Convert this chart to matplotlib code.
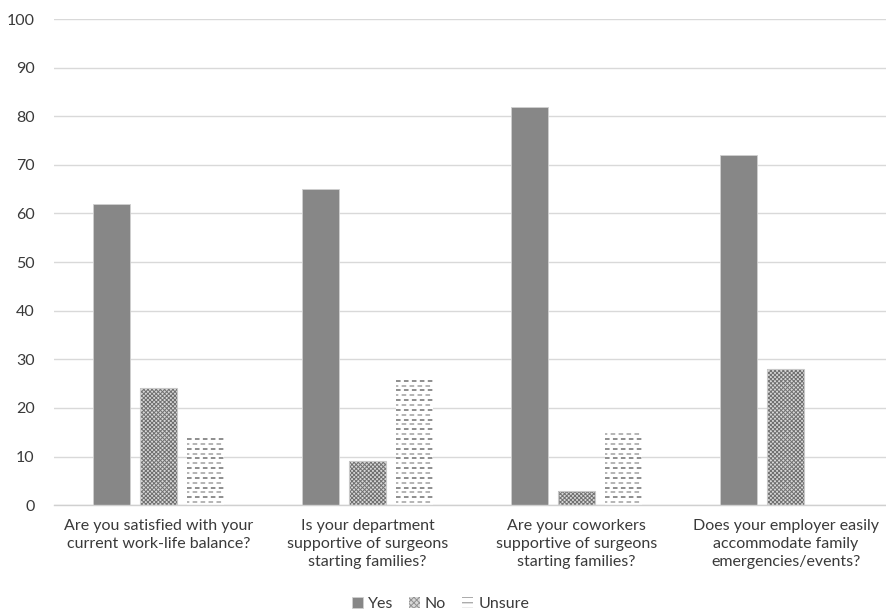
import numpy as np
import matplotlib.pyplot as plt
from matplotlib.patches import Patch

questions = [
    "Are you satisfied with your\ncurrent work-life balance?",
    "Is your department\nsupportive of surgeons\nstarting families?",
    "Are your coworkers\nsupportive of surgeons\nstarting families?",
    "Does your employer easily\naccommodate family\nemergencies/events?",
]
yes = [62, 65, 82, 72]
no = [24, 9, 3, 28]
unsure = [14, 26, 15, 0]


def dash_fill(ax, bars, gap=1.0):
    # short gray dashes in rows, clipped to each bar
    for b in bars:
        x0, w, h = b.get_x(), b.get_width(), b.get_height()
        rows = np.arange(gap * 0.6, h, gap)
        for i, yy in enumerate(rows):
            shade = '#707070' if i % 2 else '#a0a0a0'
            ln, = ax.plot([x0, x0 + w], [yy, yy], color=shade, lw=1.1,
                          dash_capstyle='butt', zorder=4)
            ln.set_linestyle((0 if i % 2 else 1.5, (3, 2.2)))
            ln.set_clip_path(b)


def main():
    plt.rcParams['font.family'] = ['Lato', 'DejaVu Sans']
    plt.rcParams['hatch.linewidth'] = 0.7
    fig = plt.figure(figsize=(8.86, 6.13), dpi=100)
    ax = fig.add_axes([0.061, 0.176, 0.9436, 0.793])

    x = np.arange(len(questions))
    w = 0.178
    step = 0.225
    txt = '#3a3a3a'
    fs = 11.5

    ax.bar(x - step, yes, w, color='#878787', edgecolor='#d0d0d0', linewidth=0.6,
           zorder=3)
    ax.bar(x, no, w, color='#d8d8d8', edgecolor='#707070', hatch='xxxxxxxx',
           linewidth=0, zorder=3)
    ax.bar(x, no, w, color='none', edgecolor='#c8c8c8', linewidth=0.8, zorder=4)
    ub = ax.bar(x + step, unsure, w, color='white', linewidth=0, zorder=3)
    dash_fill(ax, ub)

    ax.set_xlim(-0.5, 3.5)
    ax.set_ylim(0, 100)
    ax.set_yticks(np.arange(0, 101, 10))
    ax.set_xticks(x)
    ax.set_xticklabels(questions, fontsize=fs, color=txt, linespacing=1.35)
    ax.tick_params(axis='y', labelsize=fs, labelcolor=txt, length=0, pad=14)
    ax.tick_params(axis='x', length=0, pad=10)
    ax.grid(axis='y', color='#d9d9d9', linewidth=1, zorder=0)
    ax.set_axisbelow(True)
    for side in ['top', 'right', 'left']:
        ax.spines[side].set_visible(False)
    ax.spines['bottom'].set_color('#d0d0d0')
    ax.spines['bottom'].set_linewidth(1)
    ax.spines['bottom'].set_zorder(5)

    handles = [
        Patch(facecolor='#878787', edgecolor='#d0d0d0', linewidth=0.6, label='Yes'),
        Patch(facecolor='#d8d8d8', edgecolor='#909090', hatch='xxxxxx',
              linewidth=0, label='No'),
        Patch(facecolor='white', edgecolor='#8a8a8a', hatch='---',
              linewidth=0, label='Unsure'),
    ]
    fig.legend(handles=handles, loc='lower center', bbox_to_anchor=(0.497, -0.02),
               ncol=3, frameon=False, fontsize=fs, labelcolor=txt,
               handlelength=0.7, handleheight=0.7, handletextpad=0.3,
               columnspacing=1.0)

    fig.savefig('out.png', dpi=100)


if __name__ == "__main__":
    main()
